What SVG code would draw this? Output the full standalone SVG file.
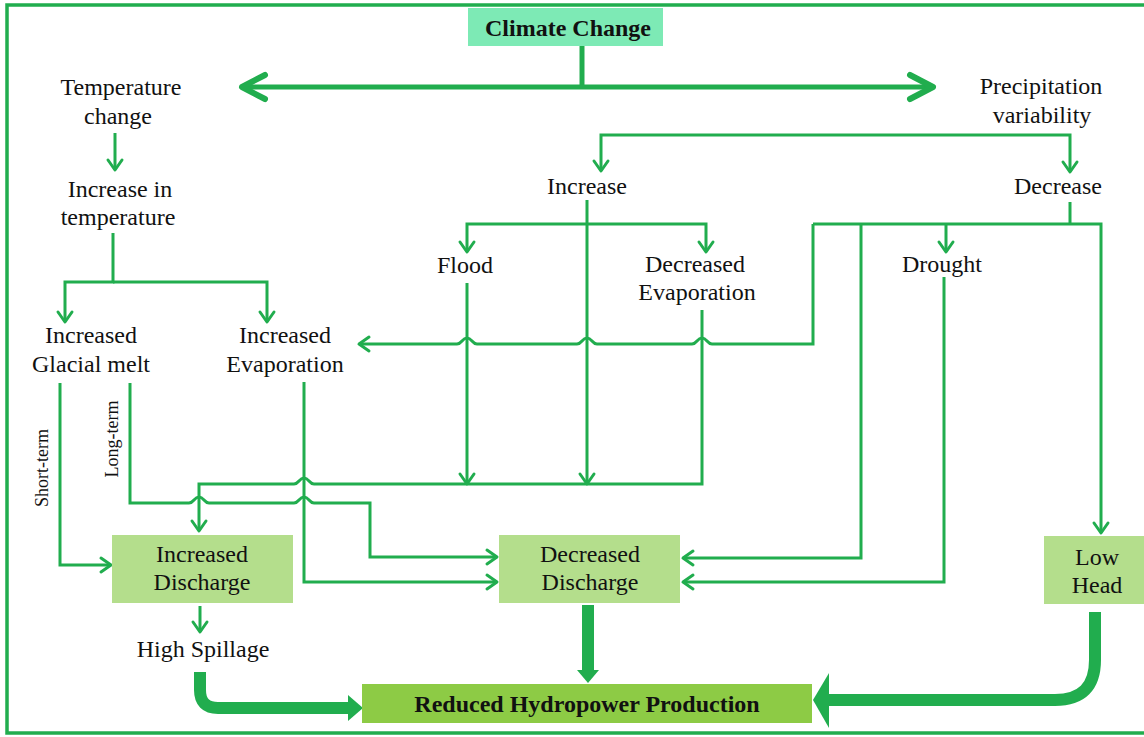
<svg xmlns="http://www.w3.org/2000/svg" width="1144" height="737" viewBox="0 0 1144 737">
<style>
  .t{font-family:"Liberation Serif","Times New Roman",serif;font-size:24px;fill:#111;text-anchor:middle}
  .b{font-weight:bold}
  .s{font-size:18px}
  .c{fill:none;stroke:#21ad4e;stroke-width:3}
  .k{fill:none;stroke:#21ad4e;stroke-width:5}
  .w{fill:none;stroke:#21ad4e;stroke-width:12}
  .h{fill:#21ad4e;stroke:none}
  .box{fill:#b4de8c}
</style>
<defs>
  <marker id="ar" markerUnits="userSpaceOnUse" viewBox="-13 -10 16 20" refX="0" refY="0" markerWidth="16" markerHeight="20" orient="auto">
    <path d="M-10,-7 L0,0 L-10,7" fill="none" stroke="#21ad4e" stroke-width="3" stroke-linecap="round" stroke-linejoin="round"/>
  </marker>
  <marker id="big" markerUnits="userSpaceOnUse" viewBox="-28 -16 32 32" refX="0" refY="0" markerWidth="32" markerHeight="32" orient="auto">
    <path d="M-23,-12 L0,0 L-23,12" fill="none" stroke="#21ad4e" stroke-width="6" stroke-linecap="round" stroke-linejoin="round"/>
  </marker>
</defs>
<rect width="1144" height="737" fill="#fff"/>
<rect x="7" y="5" width="1145" height="728" fill="none" stroke="#21ad4e" stroke-width="3.5"/>

<g id="connectors">
  <path class="k" d="M582,46 V87"/>
  <path class="k" d="M582,87 H242" marker-end="url(#big)"/>
  <path class="k" d="M582,87 H933" marker-end="url(#big)"/>
  <path class="c" d="M115,133 V170" marker-end="url(#ar)"/>
  <path class="c" d="M113,233 V282 H65 V322" marker-end="url(#ar)"/>
  <path class="c" d="M113,282 H267 V322" marker-end="url(#ar)"/>
  <path class="c" d="M836,135 H601 V171" marker-end="url(#ar)"/>
  <path class="c" d="M836,135 H1070 V172" marker-end="url(#ar)"/>
  <path class="c" d="M587,200 V484" marker-end="url(#ar)"/>
  <path class="c" d="M587,224 H467 V252" marker-end="url(#ar)"/>
  <path class="c" d="M587,224 H706 V252" marker-end="url(#ar)"/>
  <path class="c" d="M467,283 V484" marker-end="url(#ar)"/>
  <path class="c" d="M702,310 V484 H314 C309,484 309,478 304,478 C299,478 299,484 294,484 H199 V531" marker-end="url(#ar)"/>
  <path class="c" d="M1070,202 V224"/>
  <path class="c" d="M813,224 H1101 V533" marker-end="url(#ar)"/>
  <path class="c" d="M813,224 V344 H712 C707,344 707,338 702,338 C697,338 697,344 692,344 H597 C592,344 592,338 587,338 C582,338 582,344 577,344 H477 C472,344 472,338 467,338 C462,338 462,344 457,344 H359" marker-end="url(#ar)"/>
  <path class="c" d="M946,224 V252" marker-end="url(#ar)"/>
  <path class="c" d="M861,224 V558 H683" marker-end="url(#ar)"/>
  <path class="c" d="M944,277 V582 H683" marker-end="url(#ar)"/>
  <path class="c" d="M60,383 V565 H111" marker-end="url(#ar)"/>
  <path class="c" d="M130,383 V503 H189 C194,503 194,497 199,497 C204,497 204,503 209,503 H294 C299,503 299,497 304,497 C309,497 309,503 314,503 H370 V557 H497" marker-end="url(#ar)"/>
  <path class="c" d="M304,382 V582 H497" marker-end="url(#ar)"/>
  <path class="c" d="M200,606 V632" marker-end="url(#ar)"/>
  <path class="w" d="M200,672 V690 Q200,708 218,708 H350"/>
  <polygon class="h" points="348,695 363,708 348,721"/>
  <path class="w" d="M588,605 V671"/>
  <polygon class="h" points="577,670 599,670 588,683"/>
  <path class="w" d="M1095,612 V660 Q1095,700 1055,700 H826"/>
  <polygon class="h" points="829,673 813,700 829,728"/>
</g>

<g id="climate-change">
  <rect x="468" y="8" width="195" height="38" fill="#7deab5"/>
  <text class="t b" x="568" y="36">Climate Change</text>
</g>
<g id="temperature-change">
  <text class="t" x="121" y="95">Temperature</text>
  <text class="t" x="118" y="124">change</text>
</g>
<g id="precipitation-variability">
  <text class="t" x="1041" y="94">Precipitation</text>
  <text class="t" x="1042" y="123">variability</text>
</g>
<g id="increase-in-temperature">
  <text class="t" x="120" y="197">Increase in</text>
  <text class="t" x="118" y="225">temperature</text>
</g>
<g id="increase">
  <text class="t" x="587" y="194">Increase</text>
</g>
<g id="decrease">
  <text class="t" x="1058" y="194">Decrease</text>
</g>
<g id="flood">
  <text class="t" x="465" y="273">Flood</text>
</g>
<g id="decreased-evaporation">
  <text class="t" x="695" y="272">Decreased</text>
  <text class="t" x="697" y="300">Evaporation</text>
</g>
<g id="drought">
  <text class="t" x="942" y="272">Drought</text>
</g>
<g id="increased-glacial-melt">
  <text class="t" x="91" y="343">Increased</text>
  <text class="t" x="91" y="372">Glacial melt</text>
</g>
<g id="increased-evaporation">
  <text class="t" x="285" y="343">Increased</text>
  <text class="t" x="285" y="372">Evaporation</text>
</g>
<g id="short-term">
  <text class="t s" x="48" y="468" transform="rotate(-90 48 468)">Short-term</text>
</g>
<g id="long-term">
  <text class="t s" x="118" y="439" transform="rotate(-90 118 439)">Long-term</text>
</g>
<g id="increased-discharge">
  <rect class="box" x="112" y="535" width="181" height="68"/>
  <text class="t" x="202" y="562">Increased</text>
  <text class="t" x="202" y="590">Discharge</text>
</g>
<g id="decreased-discharge">
  <rect class="box" x="499" y="535" width="181" height="68"/>
  <text class="t" x="590" y="562">Decreased</text>
  <text class="t" x="590" y="590">Discharge</text>
</g>
<g id="low-head">
  <rect class="box" x="1044" y="536" width="100" height="68"/>
  <text class="t" x="1097" y="565">Low</text>
  <text class="t" x="1097" y="593">Head</text>
</g>
<g id="high-spillage">
  <text class="t" x="203" y="657">High Spillage</text>
</g>
<g id="reduced-hydropower-production">
  <rect x="362" y="684" width="450" height="39" fill="#8dcb45"/>
  <text class="t b" x="587" y="712">Reduced Hydropower Production</text>
</g>
</svg>
